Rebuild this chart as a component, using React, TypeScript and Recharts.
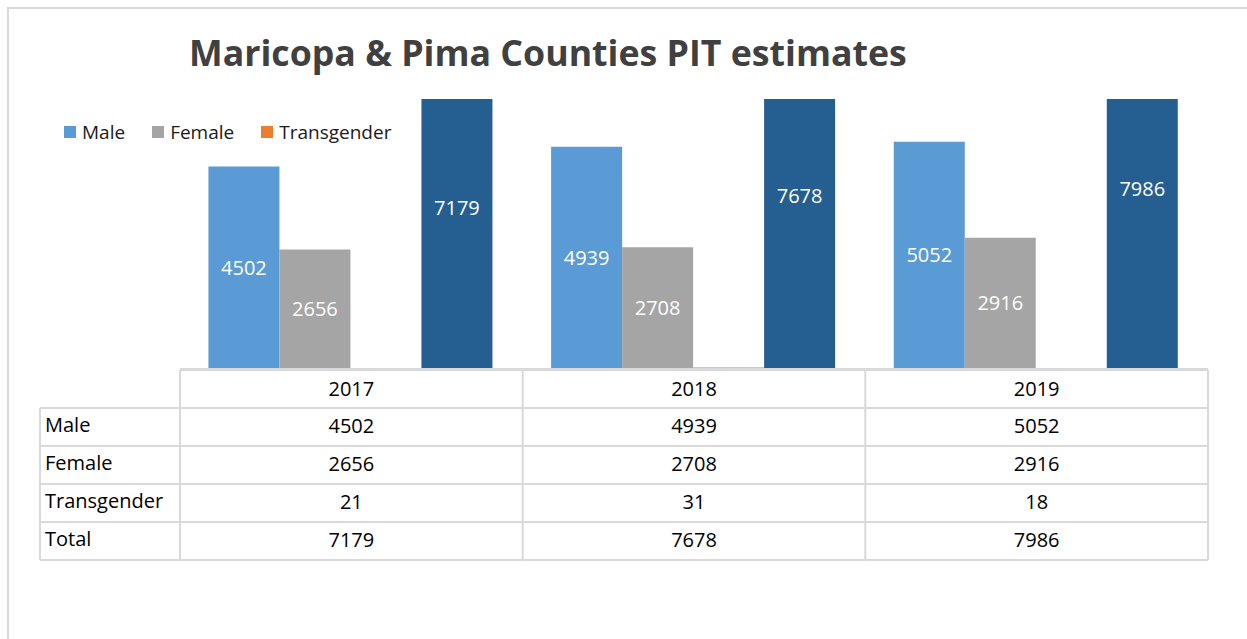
import { BarChart, Bar, XAxis, YAxis, Legend, LabelList } from 'recharts';

const years = ['2017', '2018', '2019'];
const male = [4502, 4939, 5052];
const female = [2656, 2708, 2916];
const transgender = [21, 31, 18];
const total = [7179, 7678, 7986];
const rowLabels = ['Male', 'Female', 'Transgender', 'Total'];
const rowValues = [male, female, transgender, total];
const legendNames = ['Male', 'Female', 'Transgender'];

const data = years.map((year, i) => ({
  year,
  male: male[i],
  female: female[i],
  transgender: transgender[i],
  total: total[i],
}));

const W = 1247;
const H = 639;
const LEFT = 180;
const RIGHT = 39;
const TOP = 99;
const AXIS_H = 190;
const BOTTOM = 80;
const COL_W = (W - LEFT - RIGHT) / years.length;
const ROW_H = 38;
const LABEL_X = 40;
const GRID = '#d9d9d9';
const FONT = '"Open Sans", sans-serif';

// draws one column of the data table under each category
function TableTick(props: any) {
  const { x, y, index, payload } = props;
  const left = x - COL_W / 2;
  const right = x + COL_W / 2;
  const top = y + 1;
  const bottom = top + ROW_H * 5;
  const isLast = index === years.length - 1;
  const textDy = -1.5;
  return (
    <g>
      {[0, 1, 2, 3, 4, 5].map((r) => (
        <line
          key={'h' + r}
          x1={left}
          x2={right}
          y1={top + r * ROW_H - (r === 0 ? 0.5 : 0)}
          y2={top + r * ROW_H - (r === 0 ? 0.5 : 0)}
          stroke={GRID}
          strokeWidth={r === 0 ? 3 : 2}
        />
      ))}
      <line x1={left} x2={left} y1={top} y2={bottom} stroke={GRID} strokeWidth={2} />
      {isLast && <line x1={right} x2={right} y1={top} y2={bottom} stroke={GRID} strokeWidth={2} />}
      <text x={x} y={top + ROW_H / 2 + textDy + 1} textAnchor="middle" dominantBaseline="central" fontSize={20} fill="#000">
        {payload.value}
      </text>
      {rowValues.map((vals, r) => (
        <text key={'v' + r} x={x} y={top + (r + 1.5) * ROW_H + textDy} textAnchor="middle" dominantBaseline="central" fontSize={20} fill="#000">
          {vals[index]}
        </text>
      ))}
      {index === 0 && (
        <g>
          {[1, 2, 3, 4, 5].map((r) => (
            <line key={'lh' + r} x1={LABEL_X} x2={left} y1={top + r * ROW_H} y2={top + r * ROW_H} stroke={GRID} strokeWidth={2} />
          ))}
          <line x1={LABEL_X} x2={LABEL_X} y1={top + ROW_H} y2={bottom} stroke={GRID} strokeWidth={2} />
          {rowLabels.map((label, r) => (
            <text key={'l' + r} x={LABEL_X + 5} y={top + (r + 1.5) * ROW_H + textDy - 1} dominantBaseline="central" fontSize={20} fill="#000">
              {label}
            </text>
          ))}
        </g>
      )}
    </g>
  );
}

function LegendContent(props: any) {
  const payload = (props.payload || []) as any[];
  const items = legendNames
    .map((name) => payload.find((p) => p.value === name))
    .filter(Boolean);
  return (
    <div style={{ display: 'flex', alignItems: 'center', fontFamily: FONT, fontSize: 19, color: '#1a1a1a' }}>
      {items.map((entry: any) => (
        <div key={entry.value} style={{ display: 'flex', alignItems: 'center', marginRight: 27 }}>
          <span style={{ width: 12, height: 12, background: entry.color, marginRight: 6, display: 'inline-block' }} />
          <span>{entry.value}</span>
        </div>
      ))}
    </div>
  );
}

export default function App() {
  return (
    <div style={{ position: 'absolute', left: 0, top: 0, width: W, height: H, background: '#fff', overflow: 'hidden', fontFamily: FONT }}>
      <div style={{ position: 'absolute', left: 7, top: 7, width: W, height: H, borderLeft: `2px solid ${GRID}`, borderTop: `2px solid ${GRID}` }} />
      <div style={{ position: 'absolute', left: 189, top: 32, fontSize: 35.7, fontWeight: 700, color: '#404040', lineHeight: '40px', whiteSpace: 'nowrap' }}>
        Maricopa &amp; Pima Counties PIT estimates
      </div>
      <div style={{ position: 'absolute', left: 0, top: 0 }}>
        <BarChart
          width={W}
          height={H}
          data={data}
          margin={{ top: TOP, right: RIGHT, bottom: BOTTOM, left: LEFT }}
          barCategoryGap="8.3%"
          barGap={0}
          style={{ fontFamily: FONT }}
        >
          <YAxis hide domain={[0, 6000]} allowDataOverflow />
          <Bar dataKey="male" name="Male" fill="#5b9bd5" isAnimationActive={false}>
            <LabelList dataKey="male" position="center" fill="#fff" fontSize={20} />
          </Bar>
          <Bar dataKey="female" name="Female" fill="#a5a5a5" isAnimationActive={false}>
            <LabelList dataKey="female" position="center" fill="#fff" fontSize={20} />
          </Bar>
          <Bar dataKey="transgender" name="Transgender" fill="#ed7d31" isAnimationActive={false} />
          <Bar dataKey="total" name="Total" fill="#255e91" legendType="none" isAnimationActive={false}>
            <LabelList dataKey="total" position="center" fill="#fff" fontSize={20} />
          </Bar>
          <XAxis dataKey="year" height={AXIS_H} axisLine={false} tickLine={false} tickSize={0} tickMargin={0} interval={0} tick={<TableTick />} />
          <Legend
            layout="horizontal"
            verticalAlign="middle"
            align="center"
            content={<LegendContent />}
            wrapperStyle={{ position: 'absolute', left: 64, top: 119, width: 'auto' }}
          />
        </BarChart>
      </div>
    </div>
  );
}
